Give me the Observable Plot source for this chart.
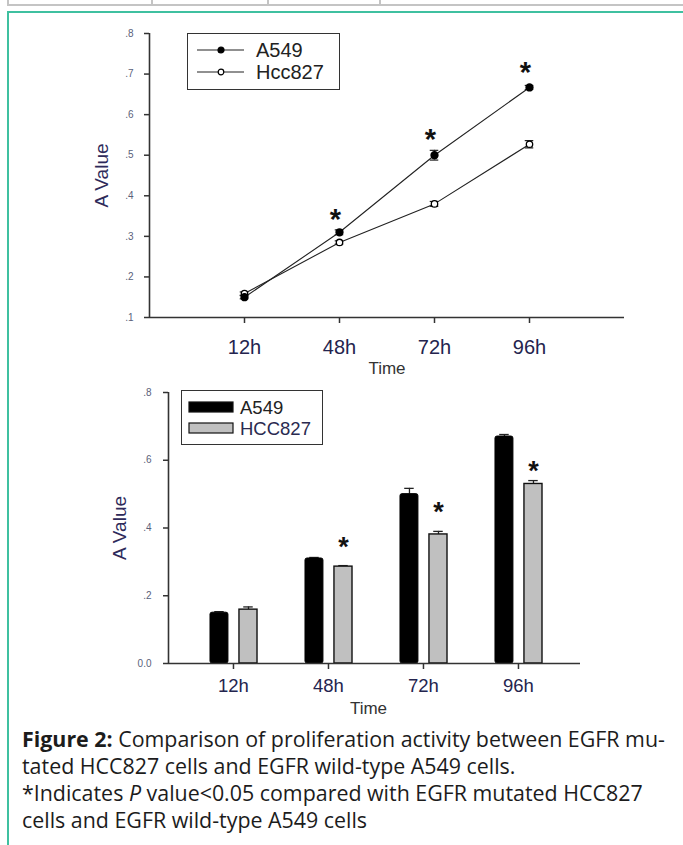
<!DOCTYPE html>
<html>
<head>
<meta charset="utf-8">
<script src="https://cdn.jsdelivr.net/npm/d3@7"></script>
<script src="https://cdn.jsdelivr.net/npm/@observablehq/plot@0.6"></script>
<style>
  html, body { margin: 0; padding: 0; background: #fff; }
  #page { position: relative; width: 683px; height: 845px; overflow: hidden; background: #fff; font-family: Arial, "Liberation Sans", sans-serif; }
  .abs { position: absolute; }
  #tableEdge { left: 7px; top: 0; width: 700px; height: 4px; border-bottom: 2px solid #c4c4c4; border-left: 2px solid #c4c4c4; }
  .tcol { top: 0; width: 2px; height: 6px; background: #c4c4c4; }
  #box { left: 7px; top: 11px; width: 700px; height: 860px; border-left: 2px solid #3fc0a0; border-top: 2px solid #3fc0a0; }
  .legend { border: 1.5px solid #333; background: #fff; box-sizing: border-box; }
  #caption { left: 22px; top: 725px; width: 660px; font-family: "Open Sans", sans-serif; font-size: 21.4px; line-height: 27px; color: #1c1c1c; white-space: nowrap; }
  #caption b { font-weight: 700; }
</style>
</head>
<body>
<div id="page">
  <div id="tableEdge" class="abs"></div>
  <div class="abs tcol" style="left:151px"></div>
  <div class="abs tcol" style="left:267px"></div>
  <div class="abs tcol" style="left:379px"></div>
  <div id="box" class="abs"></div>
  <div id="top" class="abs" style="left:0;top:0"></div>
  <div id="bottom" class="abs" style="left:0;top:370px"></div>
  <div id="legTop" class="abs legend" style="left:187px;top:33px;width:153px;height:57px"></div>
  <div id="legBot" class="abs legend" style="left:181px;top:390px;width:142px;height:55px"></div>
  <div id="caption" class="abs"><b>Figure 2:</b> Comparison of proliferation activity between EGFR mu-<br>tated HCC827 cells and EGFR wild-type A549 cells.<br>*Indicates <i>P</i> value&lt;0.05 compared with EGFR mutated HCC827<br>cells and EGFR wild-type A549 cells</div>
</div>
<script>
// ---------- data ----------
const times = ["12h", "48h", "72h", "96h"];
const timeIndex = [1, 2, 3, 4];

// Line chart (top)
const a549Line = [0.150, 0.310, 0.500, 0.667];
const a549LineErr = [0.004, 0.006, 0.012, 0.005];
const hccLine = [0.159, 0.285, 0.380, 0.527];
const hccLineErr = [0.004, 0.004, 0.006, 0.009];
const lineStars = [null, 0.351, 0.548, 0.713];
const topYTicks = [0.1, 0.2, 0.3, 0.4, 0.5, 0.6, 0.7, 0.8];

// Bar chart (bottom)
const a549Bar = [0.150, 0.310, 0.500, 0.670];
const a549BarErr = [0.003, 0.003, 0.017, 0.006];
const hccBar = [0.159, 0.286, 0.381, 0.530];
const hccBarErr = [0.008, 0.003, 0.009, 0.010];
const barStars = [null, 0.354, 0.457, 0.578];
const botYTicks = [0, 0.2, 0.4, 0.6, 0.8];

const seriesNames = ["A549", "Hcc827"];
const barSeriesNames = ["A549", "HCC827"];

// ---------- build tables ----------
const topData = times.map((t, k) => ({t, i: timeIndex[k], a: a549Line[k], ae: a549LineErr[k], h: hccLine[k], he: hccLineErr[k], s: lineStars[k]}));
const botData = times.map((t, k) => ({t, i: timeIndex[k], a: a549Bar[k], ae: a549BarErr[k], h: hccBar[k], he: hccBarErr[k], s: barStars[k]}));

const fmtY = d => d === 0 ? "0.0" : d3.format(".1f")(d).replace(/^0/, "");
const font = "Arial, 'Liberation Sans', sans-serif";
const ink = "#222";

// ---------- top line chart ----------
const cap = 0.045;
const topPlot = Plot.plot({
  width: 683, height: 390,
  marginLeft: 149, marginRight: 59, marginTop: 33, marginBottom: 73,
  style: {fontFamily: font, background: "transparent", overflow: "visible"},
  x: {domain: [0, 5], axis: null},
  y: {domain: [0.1, 0.8], axis: null},
  marks: [
    Plot.ruleX([0], {stroke: "#333", strokeWidth: 1.6}),
    Plot.ruleY([0.1], {stroke: "#333", strokeWidth: 1.6}),
    Plot.axisY({ticks: topYTicks, tickFormat: fmtY, tickSize: 5, tickPadding: 11, fontSize: 10, fill: "#5a5f7a", stroke: "#333", strokeWidth: 1.5, label: null}),
    Plot.axisX({ticks: timeIndex, tickFormat: i => times[i - 1], tickSize: 6, tickPadding: 16, fontSize: 20, fill: "#24244e", stroke: "#333", strokeWidth: 1.5, label: null}),
    Plot.text(["A Value"], {frameAnchor: "left", rotate: -90, dx: -48, textAnchor: "middle", lineAnchor: "middle", fontSize: 19, fill: "#2e2a5a"}),
    Plot.text(["Time"], {frameAnchor: "bottom", dy: 51, lineAnchor: "middle", fontSize: 17, fill: "#333"}),
    Plot.line(topData, {x: "i", y: "a", stroke: ink, strokeWidth: 1.1}),
    Plot.line(topData, {x: "i", y: "h", stroke: ink, strokeWidth: 1.1}),
    Plot.ruleX(topData, {x: "i", y1: d => d.a - d.ae, y2: d => d.a + d.ae, stroke: ink, strokeWidth: 1.2}),
    Plot.ruleX(topData, {x: "i", y1: d => d.h - d.he, y2: d => d.h + d.he, stroke: ink, strokeWidth: 1.2}),
    Plot.ruleY(topData, {y: d => d.a + d.ae, x1: d => d.i - cap, x2: d => d.i + cap, stroke: ink, strokeWidth: 1.2}),
    Plot.ruleY(topData, {y: d => d.a - d.ae, x1: d => d.i - cap, x2: d => d.i + cap, stroke: ink, strokeWidth: 1.2}),
    Plot.ruleY(topData, {y: d => d.h + d.he, x1: d => d.i - cap, x2: d => d.i + cap, stroke: ink, strokeWidth: 1.2}),
    Plot.ruleY(topData, {y: d => d.h - d.he, x1: d => d.i - cap, x2: d => d.i + cap, stroke: ink, strokeWidth: 1.2}),
    Plot.dot(topData, {x: "i", y: "h", r: 3.2, fill: "#fff", stroke: "#000", strokeWidth: 1.3}),
    Plot.dot(topData, {x: "i", y: "a", r: 3.4, fill: "#000", stroke: "#000"}),
    Plot.text(topData.filter(d => d.s != null), {x: "i", y: "s", text: () => "*", fontSize: 29, fontWeight: "bold", fill: "#111", dx: -4, dy: 4})
  ]
});
document.getElementById("top").appendChild(topPlot);

// ---------- bottom bar chart ----------
const barL = [-0.242, -0.053];   // A549 bar edges relative to tick
const barR = [0.063, 0.253];     // HCC827 bar edges relative to tick
const midL = (barL[0] + barL[1]) / 2, midR = (barR[0] + barR[1]) / 2;
const bcap = 0.05;
const botPlot = Plot.plot({
  width: 683, height: 350,
  marginLeft: 168, marginRight: 103, marginTop: 22, marginBottom: 57,
  style: {fontFamily: font, background: "transparent", overflow: "visible"},
  x: {domain: [0.316, 4.653], axis: null},
  y: {domain: [0, 0.8], axis: null},
  marks: [
    Plot.ruleX([0.316], {stroke: "#333", strokeWidth: 1.6}),
    Plot.axisY({ticks: botYTicks, tickFormat: fmtY, tickSize: 5, tickPadding: 12, fontSize: 10, fill: "#5a5f7a", stroke: "#333", strokeWidth: 1.5, label: null}),
    Plot.axisX({ticks: timeIndex, tickFormat: i => times[i - 1], tickSize: 6, tickPadding: 9, fontSize: 18.5, fill: "#24244e", stroke: "#333", strokeWidth: 1.5, label: null}),
    Plot.text(["A Value"], {frameAnchor: "left", rotate: -90, dx: -49, textAnchor: "middle", lineAnchor: "middle", fontSize: 19, fill: "#2e2a5a"}),
    Plot.text(["Time"], {frameAnchor: "bottom", dy: 45, dx: -6, lineAnchor: "middle", fontSize: 17, fill: "#333"}),
    Plot.ruleX(botData, {x: d => d.i + midL, y1: "a", y2: d => d.a + d.ae, stroke: ink, strokeWidth: 1.3}),
    Plot.ruleY(botData, {y: d => d.a + d.ae, x1: d => d.i + midL - bcap, x2: d => d.i + midL + bcap, stroke: ink, strokeWidth: 1.3}),
    Plot.ruleX(botData, {x: d => d.i + midR, y1: "h", y2: d => d.h + d.he, stroke: ink, strokeWidth: 1.3}),
    Plot.ruleY(botData, {y: d => d.h + d.he, x1: d => d.i + midR - bcap, x2: d => d.i + midR + bcap, stroke: ink, strokeWidth: 1.3}),
    Plot.rect(botData, {x1: d => d.i + barL[0], x2: d => d.i + barL[1], y1: () => 0, y2: "a", fill: "#000", stroke: "#000", strokeWidth: 1, rx: 2}),
    Plot.rect(botData, {x1: d => d.i + barR[0], x2: d => d.i + barR[1], y1: () => 0, y2: "h", fill: "#c0c0c0", stroke: "#111", strokeWidth: 1.4}),
    Plot.ruleY([0], {stroke: "#333", strokeWidth: 1.6}),
    Plot.text(botData.filter(d => d.s != null), {x: d => d.i + midR, y: "s", text: () => "*", fontSize: 27, fontWeight: "bold", fill: "#111", dy: 4})
  ]
});
document.getElementById("bottom").appendChild(botPlot);

// ---------- legends ----------
const legTop = d3.select("#legTop").append("svg").attr("width", 150).attr("height", 54).style("display", "block");
seriesNames.forEach((name, k) => {
  const g = legTop.append("g").attr("transform", `translate(0,${16 + k * 22})`);
  g.append("line").attr("x1", 9).attr("x2", 56).attr("stroke", ink).attr("stroke-width", 1.2);
  g.append("circle").attr("cx", 33).attr("r", k === 0 ? 3 : 2.8)
    .attr("fill", k === 0 ? "#000" : "#fff").attr("stroke", "#000").attr("stroke-width", 1.2);
  g.append("text").attr("x", 68).attr("dy", "0.36em").attr("font-family", font).attr("font-size", 20).attr("fill", ink).text(name);
});
const legBot = d3.select("#legBot").append("svg").attr("width", 139).attr("height", 52).style("display", "block");
barSeriesNames.forEach((name, k) => {
  const g = legBot.append("g").attr("transform", `translate(0,${16 + k * 21})`);
  g.append("rect").attr("x", 7).attr("y", -5).attr("width", 44).attr("height", 10)
    .attr("fill", k === 0 ? "#000" : "#c0c0c0").attr("stroke", "#111").attr("stroke-width", 1.2);
  g.append("text").attr("x", 58).attr("dy", "0.36em").attr("font-family", font).attr("font-size", 18.5).attr("fill", k === 0 ? ink : "#2a2a50").text(name);
});
</script>
</body>
</html>
